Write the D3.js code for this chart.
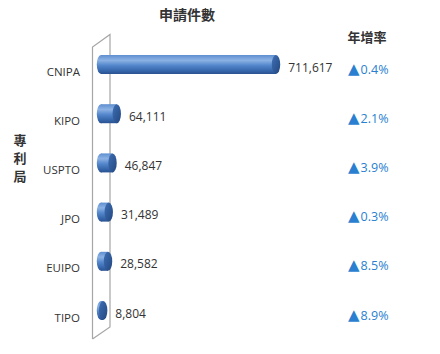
<!DOCTYPE html>
<html>
<head>
<meta charset="utf-8">
<script src="https://cdn.jsdelivr.net/npm/d3@7"></script>
<style>
body { margin: 0; background: #fff; }
text { font-family: "Open Sans", "Noto Sans", sans-serif; }
.cjk { font-family: "Noto Sans CJK TC", sans-serif; font-weight: bold; }
</style>
</head>
<body>
<svg id="chart" width="440" height="354"></svg>
<script>
// data
var offices = ["CNIPA", "KIPO", "USPTO", "JPO", "EUIPO", "TIPO"];
var counts = [711617, 64111, 46847, 31489, 28582, 8804];
var growth = ["0.4%", "2.1%", "3.9%", "0.3%", "8.5%", "8.9%"];

var svg = d3.select("#chart");

var x = d3.scaleLinear().domain([0, 711617]).range([101, 276]);
var y = d3.scalePoint().domain(offices).range([64.5, 310.5]);

var barH = 19, capRx = 4.2;

// gradients for the cylinder look
var defs = svg.append("defs");
var g1 = defs.append("linearGradient").attr("id", "body")
    .attr("x1", 0).attr("y1", 0).attr("x2", 0).attr("y2", 1);
[[0, "#5f8fd0"], [0.28, "#8cb2e4"], [0.55, "#5386cc"], [0.85, "#3464a8"], [1, "#2a5190"]]
    .forEach(function(s){ g1.append("stop").attr("offset", s[0]).attr("stop-color", s[1]); });
var g2 = defs.append("linearGradient").attr("id", "cap")
    .attr("x1", 0).attr("y1", 0).attr("x2", 1).attr("y2", 1);
[[0, "#3f6fb4"], [1, "#22477f"]]
    .forEach(function(s){ g2.append("stop").attr("offset", s[0]).attr("stop-color", s[1]); });

// back wall
var wall = svg.append("g").attr("stroke", "#a6a6a6").attr("fill", "none").attr("stroke-width", 1.2);
wall.append("path").attr("d", "M92.5,339 L92.5,47 L110,34.5 L110,327 L92.5,339");

// titles
svg.append("text").attr("class", "cjk").attr("x", 187).attr("y", 20)
    .attr("text-anchor", "middle").attr("font-size", 14).attr("fill", "#333").text("申請件數");
svg.append("text").attr("class", "cjk").attr("x", 367).attr("y", 42)
    .attr("text-anchor", "middle").attr("font-size", 13).attr("fill", "#333").text("年增率");
svg.append("text").attr("class", "cjk").attr("font-size", 13).attr("fill", "#333")
    .attr("text-anchor", "middle")
    .selectAll("tspan").data(["專", "利", "局"]).enter().append("tspan")
    .attr("x", 20).attr("y", function(d, i){ return 145 + i * 18; }).text(function(d){ return d; });

var rows = svg.selectAll(".row").data(offices).enter().append("g").attr("class", "row");

// cylinder body
rows.append("rect")
    .attr("x", x(0))
    .attr("y", function(d){ return y(d) - barH / 2; })
    .attr("width", function(d, i){ return x(counts[i]) - x(0); })
    .attr("height", barH)
    .attr("fill", "url(#body)");
// left rounded end
rows.append("ellipse")
    .attr("cx", x(0))
    .attr("cy", function(d){ return y(d); })
    .attr("rx", capRx).attr("ry", barH / 2)
    .attr("fill", "url(#body)");
// right cap
rows.append("ellipse")
    .attr("cx", function(d, i){ return x(counts[i]); })
    .attr("cy", function(d){ return y(d); })
    .attr("rx", capRx).attr("ry", barH / 2)
    .attr("fill", "url(#cap)");

// category labels
rows.append("text")
    .attr("x", 80)
    .attr("y", function(d){ return y(d) + 11; })
    .attr("text-anchor", "end").attr("font-size", 11.5).attr("fill", "#333")
    .text(function(d){ return d; });

// value labels
var fmt = d3.format(",");
rows.append("text")
    .attr("x", function(d, i){ return x(counts[i]) + capRx + 8; })
    .attr("y", function(d){ return y(d) + 7; })
    .attr("font-size", 12).attr("fill", "#333")
    .text(function(d, i){ return fmt(counts[i]); });

// growth rate
var gr = rows.append("text")
    .attr("x", 348)
    .attr("y", function(d){ return y(d) + 9; })
    .attr("fill", "#2a7fd0");
gr.append("tspan").attr("font-size", 15).attr("font-family", "DejaVu Sans").text("▲");
gr.append("tspan").attr("font-size", 12.5).attr("dx", 1)
    .text(function(d, i){ return growth[i]; });
</script>
</body>
</html>
